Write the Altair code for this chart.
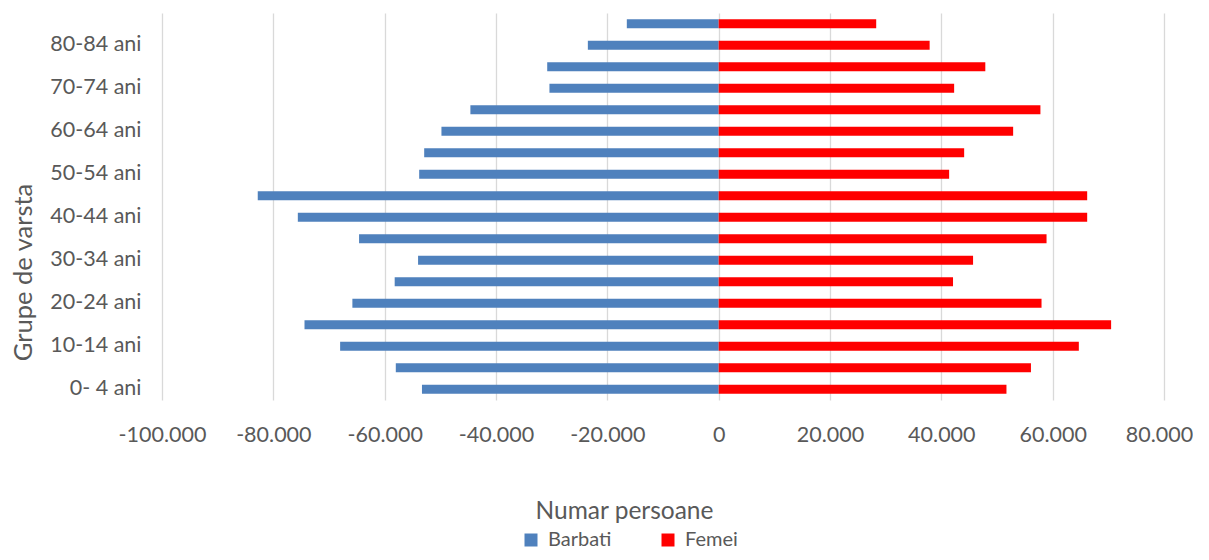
import altair as alt
import pandas as pd

groups = ["0- 4 ani", "5- 9 ani", "10-14 ani", "15-19 ani", "20-24 ani", "25-29 ani",
          "30-34 ani", "35-39 ani", "40-44 ani", "45-49 ani", "50-54 ani", "55-59 ani",
          "60-64 ani", "65-69 ani", "70-74 ani", "75-79 ani", "80-84 ani", "85+ ani"]
barbati = [53300, 58000, 68000, 74400, 65800, 58200, 54000, 64600, 75600, 82800,
           53800, 52900, 49800, 44600, 30400, 30800, 23500, 16500]
femei = [51700, 56100, 64700, 70500, 58000, 42100, 45700, 58900, 66200, 66200,
         41400, 44100, 52900, 57800, 42300, 47900, 37900, 28300]
x_ticks = [-100000, -80000, -60000, -40000, -20000, 0, 20000, 40000, 60000, 80000]
series = ["Barbati", "Femei"]
colors = ["#4f81bd", "#ff0000"]

rows = []
for g, b, f in zip(groups, barbati, femei):
    rows.append({"grupa": g, "sex": "Barbati", "value": -b})
    rows.append({"grupa": g, "sex": "Femei", "value": f})
df = pd.DataFrame(rows)

FONT = "Lato"
TXT = "#595959"
LBL = 21.5

label_expr = ("(datum.value < 0 ? '-' : '') + "
              "replace(format(abs(datum.value), ',d'), ',', '.')")

chart = alt.Chart(df).mark_bar(size=9).encode(
    x=alt.X("value:Q",
            scale=alt.Scale(domain=[-100000, 80000], nice=False, zero=False),
            axis=alt.Axis(values=x_ticks, title="Numar persoane",
                          labelExpr=label_expr,
                          grid=True, gridColor="#d9d9d9", gridWidth=1.3,
                          domain=False, ticks=False, labelFlush=False,
                          labelOffset={"condition": {"test": "datum.value == 80000", "value": -5},
                                       "value": 0},
                          labelPadding=24, labelFont=FONT, labelFontSize=LBL,
                          labelColor=TXT, titleFont=FONT, titleFontSize=24.5,
                          titleFontWeight="normal", titleColor=TXT,
                          titleX=462, titleY=111, titleAlign="center",
                          titleBaseline="middle")),
    y=alt.Y("grupa:N", sort=list(reversed(groups)),
            scale=alt.Scale(paddingInner=0, paddingOuter=0),
            axis=alt.Axis(values=groups[::2], title="Grupe de varsta",
                          grid=False, domain=False, ticks=False, labelPadding=21,
                          labelFont=FONT, labelFontSize=LBL, labelColor=TXT,
                          titleFont=FONT, titleFontSize=25.5, titleFontWeight="normal",
                          titleColor=TXT, titleX=-139, titleY=259,
                          titleBaseline="middle", titleAlign="center")),
    color=alt.Color("sex:N", scale=alt.Scale(domain=series, range=colors),
                    legend=alt.Legend(title=None, orient="none", legendX=359, legendY=517,
                                      direction="horizontal", symbolType="square",
                                      symbolSize=169, symbolStrokeWidth=0,
                                      labelFont=FONT, labelFontSize=20, labelColor=TXT,
                                      columnPadding=46, labelOffset=7)),
).properties(
    width=1002, height=387,
    autosize=alt.AutoSizeParams(type="none"),
    padding={"left": 154, "top": 5, "right": 29, "bottom": 151},
).configure_view(stroke=None)

chart.save("out.html", embed_options={"renderer": "svg", "actions": False})
